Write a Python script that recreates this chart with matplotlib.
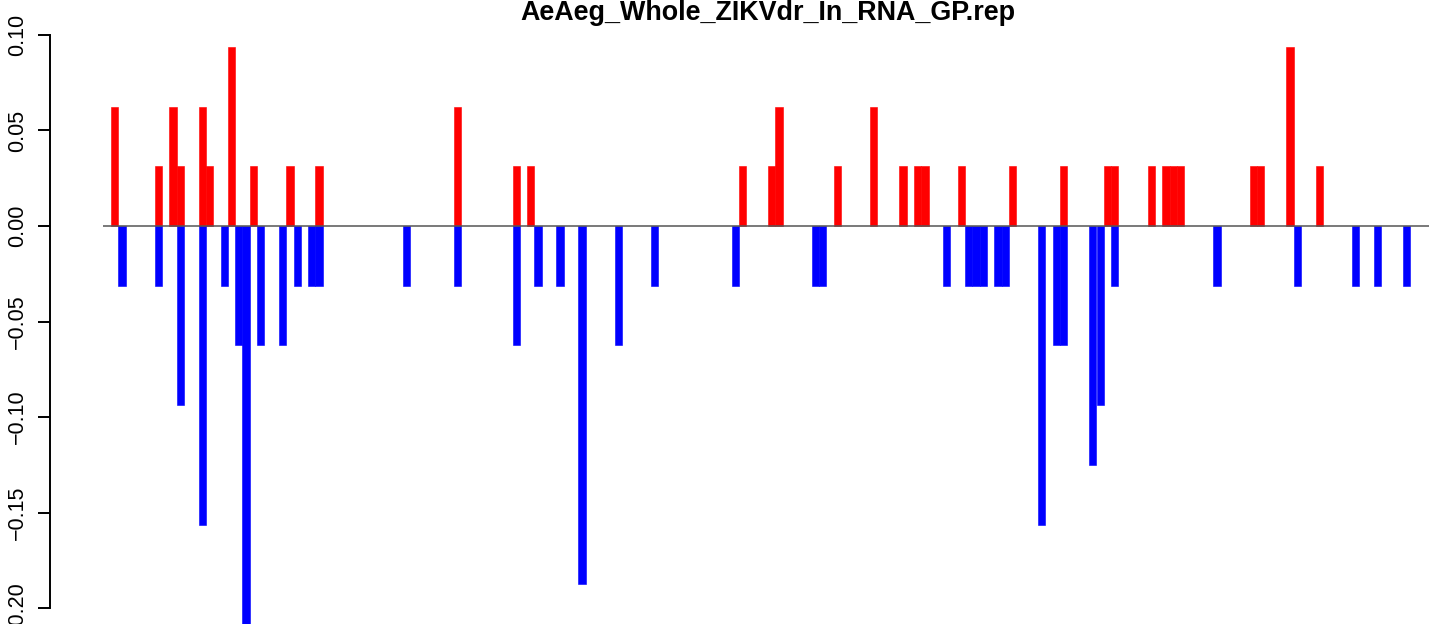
import matplotlib
matplotlib.use("Agg")
import matplotlib.pyplot as plt

plt.rcParams['font.family'] = ['Liberation Sans', 'DejaVu Sans']

title = "AeAeg_Whole_ZIKVdr_In_RNA_GP.rep"

# bar slots (one unit per bar) and values
pos_slots = [0, 6, 8, 9, 12, 13, 16, 19, 24, 28, 47, 55, 57, 86, 90, 91, 99, 104,
             108, 110, 111, 116, 123, 130, 136, 137, 142, 144, 145, 146, 156, 157,
             161, 165]
pos_vals = [0.0625, 0.03125, 0.0625, 0.03125, 0.0625, 0.03125, 0.09375, 0.03125,
            0.03125, 0.03125, 0.0625, 0.03125, 0.03125, 0.03125, 0.03125, 0.0625,
            0.03125, 0.0625, 0.03125, 0.03125, 0.03125, 0.03125, 0.03125, 0.03125,
            0.03125, 0.03125, 0.03125, 0.03125, 0.03125, 0.03125, 0.03125, 0.03125,
            0.09375, 0.03125]

neg_slots = [1, 6, 9, 12, 15, 17, 18, 20, 23, 25, 27, 28, 40, 47, 55, 58, 61, 64,
             69, 74, 85, 96, 97, 114, 117, 118, 119, 121, 122, 127, 129, 130, 134,
             135, 137, 151, 162, 170, 173, 177]
neg_vals = [-0.03125, -0.03125, -0.09375, -0.15625, -0.03125, -0.0625, -0.21875,
            -0.0625, -0.0625, -0.03125, -0.03125, -0.03125, -0.03125, -0.03125,
            -0.0625, -0.03125, -0.03125, -0.1875, -0.0625, -0.03125, -0.03125,
            -0.03125, -0.03125, -0.03125, -0.03125, -0.03125, -0.03125, -0.03125,
            -0.03125, -0.15625, -0.0625, -0.0625, -0.125, -0.09375, -0.03125,
            -0.03125, -0.03125, -0.03125, -0.03125, -0.03125]

yticks = [-0.20, -0.15, -0.10, -0.05, 0.00, 0.05, 0.10]

W, H = 1429, 624
fig = plt.figure(figsize=(W / 100, H / 100), dpi=100)
# plot region like R's: runs a bit past the right and bottom edges of the picture
left_px, right_px, top_px, bot_px = 50, 1486, 23, 668
ax = fig.add_axes([left_px / W, (H - bot_px) / H,
                   (right_px - left_px) / W, (bot_px - top_px) / H])

slot_px = 7.3
x0_px = 111
xl = -(x0_px - left_px) / slot_px
xr = (right_px - x0_px) / slot_px

ax.bar(pos_slots, pos_vals, width=1, align='edge', color='#ff0000',
       edgecolor='#ff0000', linewidth=0.4)
ax.bar(neg_slots, neg_vals, width=1, align='edge', color='#0000ff',
       edgecolor='#0000ff', linewidth=0.4)
ax.hlines(0, -1.1, xr, color='#555555', lw=1.1, zorder=3)

ax.set_xlim(xl, xr)
ax.set_ylim(-0.23125, 0.10625)

for s in ['top', 'right', 'bottom']:
    ax.spines[s].set_visible(False)
ax.spines['left'].set_bounds(-0.2, 0.1)
ax.spines['left'].set_linewidth(1.4)
ax.set_xticks([])
ax.set_yticks(yticks)
ax.set_yticklabels(['%.2f' % v if v >= 0 else '\u2212%.2f' % -v for v in yticks],
                   rotation=90, va='center', fontsize=15.5)
ax.tick_params(axis='y', length=9, width=1.4, pad=7)

fig.text(768 / W, 1 - 13 / H, title, ha='center', va='center',
         fontsize=19.4, fontweight='bold')

fig.savefig('out.png', dpi=100)
